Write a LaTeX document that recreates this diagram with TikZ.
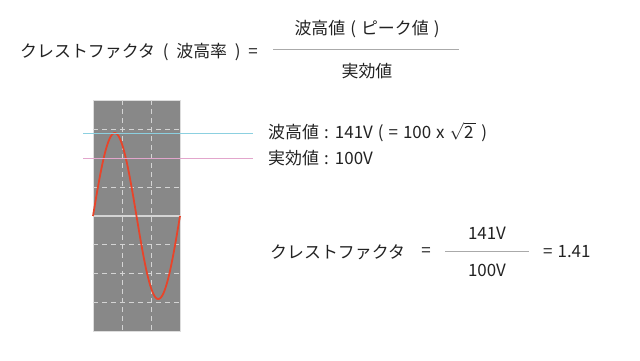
\documentclass[tikz,border=0pt]{standalone}
\usepackage{fontspec}
\setmainfont{Noto Sans CJK JP}
\definecolor{txt}{HTML}{222222}
\definecolor{scopebg}{HTML}{888888}
\definecolor{gridc}{HTML}{D4D4D4}
\definecolor{wave}{HTML}{E8442A}
\definecolor{peakc}{HTML}{8CD0E0}
\definecolor{rmsc}{HTML}{E2A6CC}
\definecolor{fracc}{HTML}{AAAAAA}
\newcommand\lblfont{\fontsize{17}{20}\selectfont\spaceskip 7.8bp\relax}
\newcommand\valfont{\fontsize{17}{20}\selectfont\spaceskip 5bp\relax}
\begin{document}
\begin{tikzpicture}[x=1bp,y=-1bp,
  lbl/.style={inner sep=0pt, text=txt, font=\lblfont},
  val/.style={inner sep=0pt, text=txt, font=\valfont},
  fracbar/.style={draw=fracc, line width=1bp},
  gridline/.style={draw=gridc, dashed, dash pattern=on 5bp off 4bp, line width=0.8bp}]
\useasboundingbox (0,0) rectangle (640,360);
% top formula
\node[lbl, anchor=west] (cf) at (20,52) {クレストファクタ ( 波高率 ) =};
\coordinate (fa) at (273,49);
\coordinate (fb) at (459,49);
\draw[fracbar] (fa) -- (fb);
\node[val] (num) at (367,29) {波高値 ( ピーク値 )};
\node[val] (den) at (367,71) {実効値};
% scope
\fill[scopebg] (93,100) rectangle (180,331);
\draw[draw=gridc!80, line width=0.6bp] (93,100) rectangle (180,331);
\foreach \gx in {122,151} \draw[gridline] (\gx,100) -- (\gx,331);
\foreach \gy in {129,158,187,244,273,302} \draw[gridline] (93,\gy) -- (180,\gy);
\draw[draw=gridc, line width=1.5bp] (93,216) -- (180,216);
\draw[wave, line width=1.8bp] plot[domain=0:360, samples=120] ({93+\x/360*87},{216-83*sin(\x)});
% level lines
\coordinate (pa) at (83,133);
\coordinate (pb) at (253,133);
\coordinate (ra) at (83,158.5);
\coordinate (rb) at (253,158.5);
\draw[peakc, line width=0.8bp] (pa) -- (pb);
\draw[rmsc, line width=0.8bp] (ra) -- (rb);
\node[val, anchor=west] (peak) at (268,132) {波高値 : 141V ( = 100 x \(\sqrt{\mbox{2}\,}\) )};
\node[val, anchor=west] (rms) at (268,158) {実効値 : 100V};
% bottom formula
\node[lbl, anchor=west] (cf2) at (270,252) {クレストファクタ};
\node[lbl] (eq1) at (426,252) {=};
\coordinate (ga) at (445,251);
\coordinate (gb) at (529,251);
\draw[fracbar] (ga) -- (gb);
\node[val] (n2) at (487,233) {141V};
\node[val] (d2) at (487,270) {100V};
\node[val, anchor=west] (res) at (543,252) {= 1.41};
\end{tikzpicture}
\end{document}
